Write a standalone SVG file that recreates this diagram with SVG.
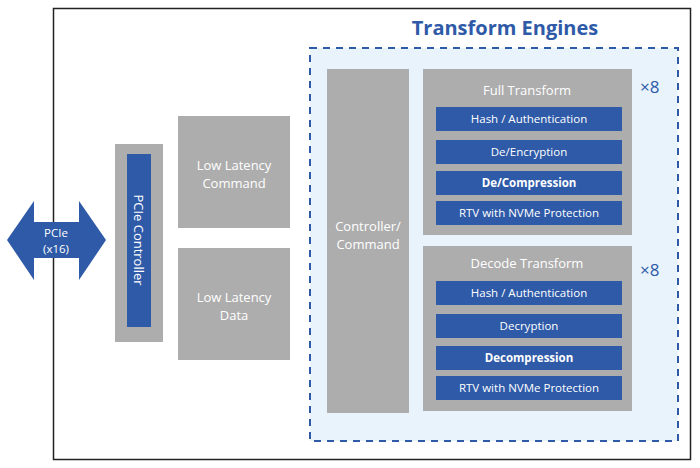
<svg xmlns="http://www.w3.org/2000/svg" width="700" height="468" viewBox="0 0 700 468">
<style>
text{font-family:"Open Sans","Liberation Sans",sans-serif}
.g{fill:#adadad}
.b{fill:#2e5aa8}
.w{fill:#fff;font-size:13px;text-anchor:middle}
.s{fill:#fff;font-size:11.5px;text-anchor:middle}
.x8{fill:#2e5aa8;font-size:17px}
</style>
<rect width="700" height="468" fill="#fff"/>
<rect x="53.5" y="8.5" width="637" height="451" fill="none" stroke="#222" stroke-width="1.5"/>
<g id="engines">
<rect x="310" y="48" width="368" height="393" fill="#e8f3fb" stroke="#2e5aa8" stroke-width="2" stroke-dasharray="7,6"/>
<text x="505" y="35" text-anchor="middle" font-size="20" font-weight="bold" fill="#2e5aa8">Transform Engines</text>
</g>
<g id="pcie">
<path class="b" d="M7,240 L34,201 L34,222 L79,222 L79,201 L106,240 L79,280 L79,258 L34,258 L34,280 Z"/>
<text class="s" x="56" y="237" font-size="12">PCIe</text>
<text class="s" x="56" y="253" font-size="12">(x16)</text>
</g>
<g id="pcie-controller">
<rect class="g" x="115" y="144" width="48" height="198"/>
<rect class="b" x="127" y="154" width="24" height="173"/>
<text class="w" transform="translate(134,240) rotate(90)" font-size="13.5">PCIe Controller</text>
</g>
<g id="ll-command">
<rect class="g" x="178" y="116" width="112" height="112"/>
<text class="w" x="234" y="170">Low Latency</text>
<text class="w" x="234" y="188">Command</text>
</g>
<g id="ll-data">
<rect class="g" x="178" y="248" width="112" height="112"/>
<text class="w" x="234" y="302">Low Latency</text>
<text class="w" x="234" y="320">Data</text>
</g>
<g id="controller">
<rect class="g" x="327" y="69" width="82" height="344"/>
<text class="w" x="368" y="231">Controller/</text>
<text class="w" x="368" y="249">Command</text>
</g>
<g id="full-transform">
<rect class="g" x="423" y="69" width="209" height="166"/>
<text class="w" x="527" y="95">Full Transform</text>
<text class="x8" x="640" y="93">×8</text>
<rect class="b" x="436" y="107" width="186" height="24"/><text class="s" x="529" y="123">Hash / Authentication</text>
<rect class="b" x="436" y="140" width="186" height="24"/><text class="s" x="529" y="156">De/Encryption</text>
<rect class="b" x="436" y="171" width="186" height="24"/><text class="s" x="529" y="187" font-weight="bold">De/Compression</text>
<rect class="b" x="436" y="201" width="186" height="24"/><text class="s" x="529" y="217">RTV with NVMe Protection</text>
</g>
<g id="decode-transform">
<rect class="g" x="423" y="246" width="209" height="165"/>
<text class="w" x="527" y="268">Decode Transform</text>
<text class="x8" x="640" y="276">×8</text>
<rect class="b" x="436" y="281" width="186" height="24"/><text class="s" x="529" y="297">Hash / Authentication</text>
<rect class="b" x="436" y="314" width="186" height="24"/><text class="s" x="529" y="330">Decryption</text>
<rect class="b" x="436" y="346" width="186" height="24"/><text class="s" x="529" y="362" font-weight="bold">Decompression</text>
<rect class="b" x="436" y="376" width="186" height="24"/><text class="s" x="529" y="392">RTV with NVMe Protection</text>
</g>
<g id="connectors"/>
</svg>
